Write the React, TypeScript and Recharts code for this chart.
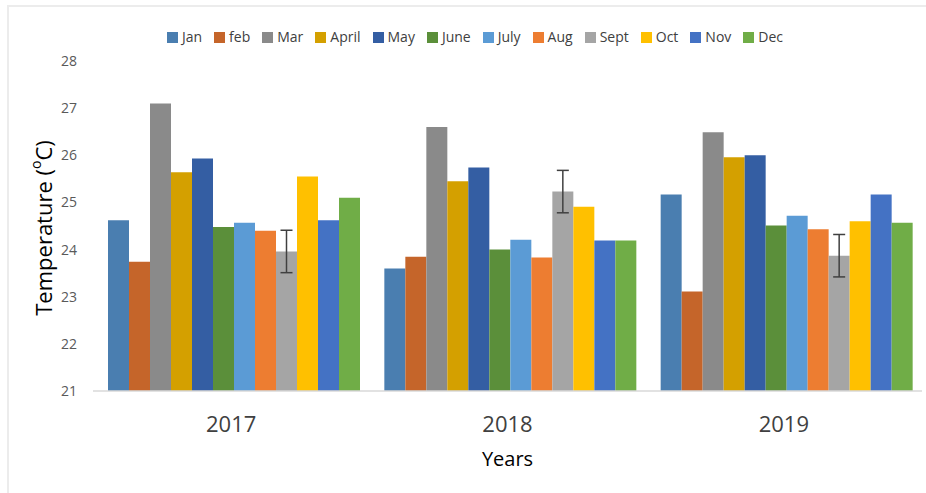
import React from 'react';
import { BarChart, Bar, XAxis, YAxis, Legend, ErrorBar, Label } from 'recharts';

const years = ['2017', '2018', '2019'];
const months = ['Jan', 'feb', 'Mar', 'April', 'May', 'June', 'July', 'Aug', 'Sept', 'Oct', 'Nov', 'Dec'];
const colors = ['#4a7eb0', '#c5652a', '#8a8a8a', '#d4a000', '#345ea3', '#5b8f3a', '#5b9bd5', '#ed7d31', '#a5a5a5', '#ffc000', '#4472c4', '#70ad47'];

const jan = [24.62, 23.6, 25.17];
const feb = [23.74, 23.85, 23.11];
const mar = [27.1, 26.6, 26.49];
const april = [25.64, 25.45, 25.96];
const may = [25.93, 25.74, 26.0];
const june = [24.48, 24.0, 24.51];
const july = [24.57, 24.21, 24.72];
const aug = [24.4, 23.83, 24.43];
const sept = [23.96, 25.23, 23.87];
const septErr = [0.45, 0.45, 0.45];
const oct = [25.55, 24.91, 24.6];
const nov = [24.62, 24.19, 25.17];
const dec = [25.1, 24.19, 24.57];

const yTicks = [21, 22, 23, 24, 25, 26, 27, 28];

const seriesValues = [jan, feb, mar, april, may, june, july, aug, sept, oct, nov, dec];

const data = years.map((y, i) => {
  const row: Record<string, any> = { year: y, septErr: septErr[i] };
  months.forEach((m, k) => {
    row[m] = seriesValues[k][i];
  });
  return row;
});

const FONT = '"Open Sans", sans-serif';

const YLabel = (props: any) => {
  const vb = props.viewBox || {};
  const cx = 43;
  const cy = vb.y + vb.height / 2 + 2;
  return (
    <text
      x={cx}
      y={cy}
      transform={`rotate(-90 ${cx} ${cy})`}
      textAnchor="middle"
      dominantBaseline="central"
      fill="#000"
      fontSize={22}
      fontFamily={FONT}
    >
      <tspan>Temperature (</tspan>
      <tspan fontSize={14} dy={-8}>o</tspan>
      <tspan dy={8}>C)</tspan>
    </text>
  );
};

const XLabel = (props: any) => {
  const vb = props.viewBox || {};
  return (
    <text
      x={vb.x + vb.width / 2}
      y={vb.y + 75}
      textAnchor="middle"
      fill="#000"
      fontSize={20}
      fontFamily={FONT}
    >
      Years
    </text>
  );
};

const LegendContent = () => (
  <div
    style={{
      display: 'flex',
      justifyContent: 'center',
      alignItems: 'center',
      fontFamily: FONT,
      fontSize: 14,
      color: '#404040',
      lineHeight: '20px',
      paddingLeft: 0,
    }}
  >
    {months.map((m, k) => (
      <div key={m} style={{ display: 'flex', alignItems: 'center', marginRight: k === months.length - 1 ? 0 : 12 }}>
        <div style={{ width: 11, height: 11, background: colors[k], marginRight: 4 }} />
        <span>{m}</span>
      </div>
    ))}
  </div>
);

export default function App() {
  return (
    <div style={{ position: 'absolute', left: 0, top: 0, width: 926, height: 493, background: '#fff' }}>
      <div
        style={{
          position: 'absolute',
          left: 7,
          top: 5,
          width: 919,
          height: 488,
          borderTop: '2px solid #ececec',
          borderLeft: '2px solid #ececec',
        }}
      />
      <BarChart
        width={926}
        height={493}
        data={data}
        margin={{ top: 61, right: 4, bottom: 42, left: 33 }}
        barGap={0}
        barCategoryGap={15}
        style={{ fontFamily: FONT }}
      >
        <XAxis
          dataKey="year"
          height={60}
          tickLine={false}
          tickSize={0}
          tickMargin={25}
          axisLine={{ stroke: '#d9d9d9', strokeWidth: 1.5 }}
          tick={{ fontSize: 22, fill: '#404040', fontFamily: FONT }}
        >
          <Label content={<XLabel />} />
        </XAxis>
        <YAxis
          width={60}
          domain={[21, 28]}
          ticks={yTicks}
          interval={0}
          axisLine={false}
          tickLine={false}
          tickSize={0}
          tickMargin={16}
          tick={{ fontSize: 14, fill: '#595959', fontFamily: FONT }}
        >
          <Label content={<YLabel />} />
        </YAxis>
        <Legend
          layout="horizontal"
          verticalAlign="middle"
          align="center"
          content={<LegendContent />}
          wrapperStyle={{ top: 27, left: 20, width: 910 }}
        />
        {months.map((m, k) => (
          <Bar key={m} dataKey={m} fill={colors[k]} isAnimationActive={false}>
            {m === 'Sept' ? (
              <ErrorBar dataKey="septErr" width={6} stroke="#404040" strokeWidth={1.5} direction="y" />
            ) : null}
          </Bar>
        ))}
      </BarChart>
    </div>
  );
}
